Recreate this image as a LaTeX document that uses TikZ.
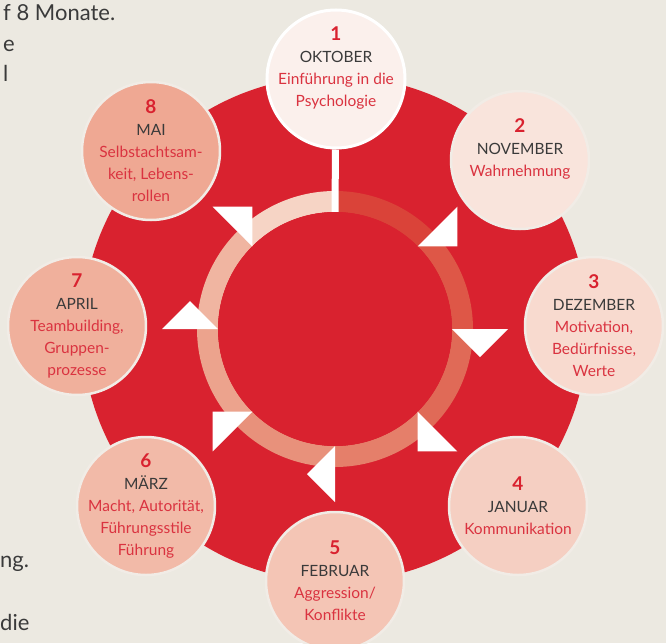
\documentclass[tikz,border=0pt]{standalone}
\usepackage{fontspec}
\setmainfont{Lato}
\usepackage{tikz}
\usetikzlibrary{calc}
\definecolor{bg}{HTML}{ECE9E1}
\definecolor{r1}{HTML}{D9222F}
\definecolor{r2}{HTML}{DA3340}
\definecolor{g1}{HTML}{3A3A3A}
\definecolor{rim}{HTML}{F1ECE6}
% ring segments, clockwise from the top
\definecolor{s1}{HTML}{DA4339}
\definecolor{s2}{HTML}{DE5747}
\definecolor{s3}{HTML}{E06A57}
\definecolor{s4}{HTML}{E57F6A}
\definecolor{s5}{HTML}{E8917B}
\definecolor{s6}{HTML}{ECA38D}
\definecolor{s7}{HTML}{F0B5A1}
\definecolor{s8}{HTML}{F6D4C5}
% month circles
\definecolor{c1}{HTML}{FBF0EC}
\definecolor{c2}{HTML}{F9E4DC}
\definecolor{c3}{HTML}{F8DACF}
\definecolor{c4}{HTML}{F5CFC2}
\definecolor{c5}{HTML}{F4C5B5}
\definecolor{c6}{HTML}{F2BAA8}
\definecolor{c7}{HTML}{F0B09C}
\definecolor{c8}{HTML}{EFA893}
\newcommand\mnum[1]{{\fontsize{19}{22}\selectfont\bfseries\color{r1}#1}}
\newcommand\mtopic[1]{\textcolor{r2}{#1}}
\tikzstyle{month}=[circle,minimum size=138pt,inner sep=0pt,draw=rim,line width=2.5pt]
\tikzstyle{topic}=[align=center,font=\fontsize{15.5}{22}\selectfont,text=g1]
\tikzstyle{side}=[anchor=base west,inner sep=0pt,font=\fontsize{22}{26}\selectfont,text=g1]

\begin{document}
\begin{tikzpicture}[x=1pt,y=1pt]
  \clip (-335,-314) rectangle (331,329);
  \fill[bg] (-335,-314) rectangle (331,329);
  % page text
  \node[side] (p1) at (-332,308) {f 8 Monate.};
  \node[side] (p2) at (-332,277) {e};
  \node[side] (p3) at (-332,247) {l};
  \node[side] (p4) at (-335,-238) {ng.};
  \node[side] (p5) at (-335,-301) {die};
  % wheel and ring
  \node[circle,fill=r1,minimum size=506pt] (wheel) at (0,0) {};
  \foreach \a/\c in {90/s1,45/s2,0/s3,-45/s4,-90/s5,-135/s6,-180/s7,-225/s8}
    \draw[\c,line width=21pt] (\a:127.5) arc (\a:\a-45:127.5);
  \node[circle,fill=r1,minimum size=234pt] (core) at (0,0) {};
  % months
  \node[month,fill=c1,draw=white,line width=3pt] (m1) at (1,250) {};
  \node[month,fill=c2] (m2) at (185,169) {};
  \node[month,fill=c3] (m3) at (259,3) {};
  \node[month,fill=c4] (m4) at (183,-177) {};
  \node[month,fill=c5] (m5) at (0,-252) {};
  \node[month,fill=c6] (m6) at (-189,-177) {};
  \node[month,fill=c7] (m7) at (-258,3) {};
  \node[month,fill=c8] (m8) at (-184,178) {};
  \node[topic] (t1) at ([yshift=11pt]m1.center) {\mnum{1}\\OKTOBER\\\mtopic{Einführung in die}\\\mtopic{Psychologie}};
  \node[topic] (t2) at ([yshift=11pt]m2.center) {\mnum{2}\\NOVEMBER\\\mtopic{Wahrnehmung}};
  \node[topic] (t3) at (m3) {\mnum{3}\\DEZEMBER\\\mtopic{Motivation,}\\\mtopic{Bedürfnisse,}\\\mtopic{Werte}};
  \node[topic] (t4) at (m4) {\mnum{4}\\JANUAR\\\mtopic{Kommunikation}};
  \node[topic] (t5) at (m5) {\mnum{5}\\FEBRUAR\\\mtopic{Aggression/}\\\mtopic{Konflikte}};
  \node[topic] (t6) at (m6) {\mnum{6}\\MÄRZ\\\mtopic{Macht, Autorität,}\\\mtopic{Führungsstile}\\\mtopic{Führung}};
  \node[topic] (t7) at (m7) {\mnum{7}\\APRIL\\\mtopic{Teambuilding,}\\\mtopic{Gruppen-}\\\mtopic{prozesse}};
  \node[topic] (t8) at (m8) {\mnum{8}\\MAI\\\mtopic{Selbstachtsam-}\\\mtopic{keit, Lebens-}\\\mtopic{rollen}};
  % start line and arrow tips
  \draw[white,line width=7pt] (m1) -- (core.north);
  \foreach \a in {45,0,-45,-90,-135,180,135}
    \fill[white] (\a:117) -- (\a:173) -- ($(\a:145)+(\a-90:28)$) -- cycle;
\end{tikzpicture}
\end{document}
